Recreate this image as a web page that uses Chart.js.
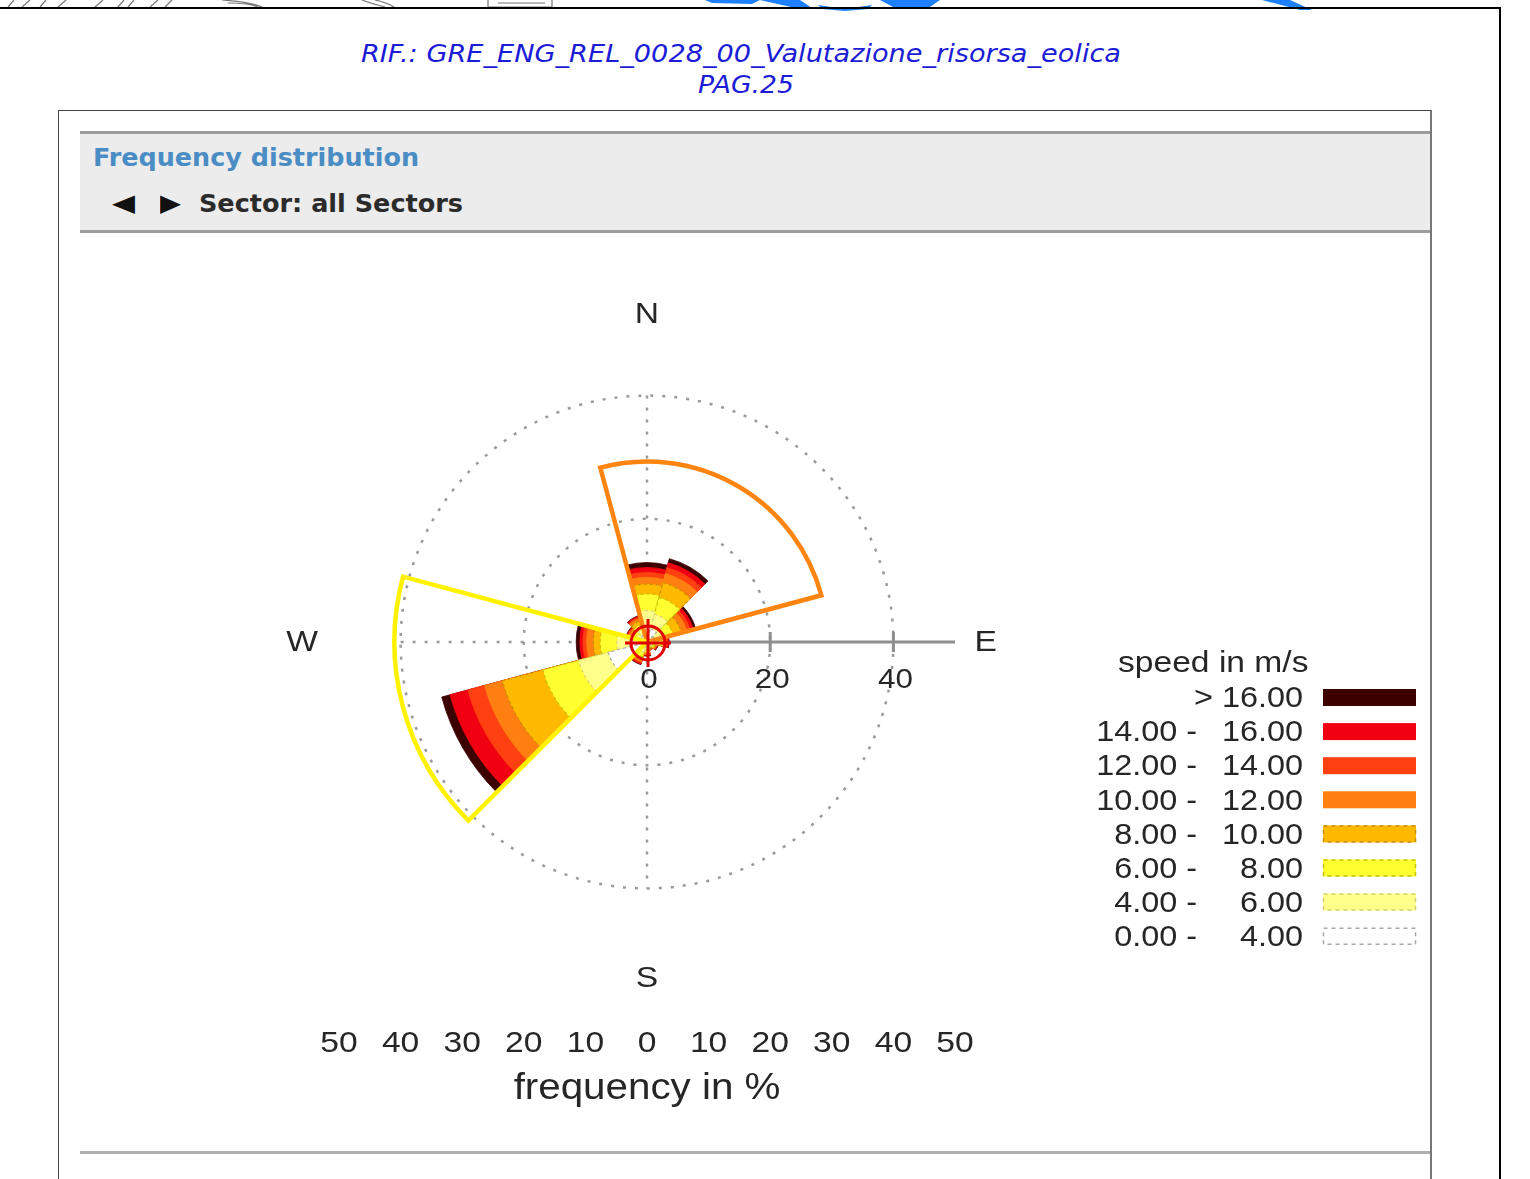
<!DOCTYPE html>
<html>
<head>
<meta charset="utf-8">
<script src="https://cdn.jsdelivr.net/npm/chart.js@4.4.1/dist/chart.umd.min.js"></script>
<style>
html,body{margin:0;padding:0;background:#fff;}
body{width:1530px;height:1179px;position:relative;overflow:hidden;font-family:"Liberation Sans",Arial,sans-serif;}
.abs{position:absolute;}
#topline{left:0;top:7px;width:1501px;height:2px;background:#000;}
#rightline{left:1499px;top:7px;width:2px;height:1172px;background:#000;}
#box{left:58px;top:110px;width:1371px;height:1100px;border-left:1px solid #444;border-top:1px solid #444;border-right:2px solid #777;}
#band{left:80px;top:131px;width:1350px;height:96px;background:#ececec;border-top:3px solid #9c9c9c;border-bottom:3px solid #9c9c9c;}
#bottomline{left:80px;top:1151px;width:1350px;height:3px;background:#b0b0b0;}
.fit{position:absolute;white-space:nowrap;line-height:1;transform-origin:left center;}
#hdr1{font-family:"DejaVu Sans",sans-serif;font-style:italic;font-size:25px;color:#1c1cd6;}
#hdr2{font-family:"DejaVu Sans",sans-serif;font-style:italic;font-size:25px;color:#1c1cd6;}
#ttl{font-family:"DejaVu Sans",sans-serif;font-weight:bold;font-size:25px;color:#4a8cc4;}
#sec{font-family:"DejaVu Sans",sans-serif;font-weight:bold;font-size:25px;color:#2b2b2b;}
#arrL,#arrR{font-family:"DejaVu Sans",sans-serif;font-size:24px;color:#111;}
canvas{position:absolute;left:0;top:0;}
</style>
</head>
<body>
<svg class="abs" style="left:0;top:0" width="1530" height="12">
  <g fill="none" stroke="#777" stroke-width="1.2">
    <path d="M8,7 L14,0 M22,7 L30,0 M40,7 L46,0 M58,7 L66,0 M95,7 L103,0 M118,7 L124,0 M128,7 L134,0 M150,7 L158,0 M165,7 L172,0"/>
    <path d="M222,0 Q250,2 262,7 M228,3 Q248,3 258,7"/>
    <path d="M362,0 Q372,4 385,7 M375,0 Q388,3 394,7"/>
    <path d="M488,0 L488,7 L552,7 L552,0 M498,3 L545,3"/>
  </g>
  <g fill="#1e80ff">
    <path d="M705,0 L760,0 L752,4 L712,3 Z"/>
    <path d="M760,0 L800,0 L812,8 L800,9 Z"/>
    <path d="M818,5 L845,9 L872,5 L868,9 L845,11 L822,9 Z"/>
    <path d="M880,0 L940,0 L930,7 L895,8 Z"/>
    <path d="M1262,0 L1290,0 L1312,10 L1300,10 Z"/>
  </g>
</svg>
<div id="topline" class="abs"></div>
<div id="rightline" class="abs"></div>
<div id="box" class="abs"></div>
<div id="band" class="abs"></div>
<div id="bottomline" class="abs"></div>
<span id="hdr1" class="fit">RIF.: GRE_ENG_REL_0028_00_Valutazione_risorsa_eolica</span>
<span id="hdr2" class="fit">PAG.25</span>
<span id="ttl" class="fit">Frequency distribution</span>
<span id="arrL" class="fit">◀</span>
<span id="arrR" class="fit">▶</span>
<span id="sec" class="fit">Sector: all Sectors</span>
<canvas id="c" width="1530" height="1179"></canvas>
<script>
// ---------------- data ----------------
const directions = [0, 30, 60, 90, 120, 150, 180, 210, 240, 270, 300, 330];
const speedLow  = [0, 4, 6, 8, 10, 12, 14, 16];
const speedHigh = [4, 6, 8, 10, 12, 14, 16, null];
// frequency in % per direction sector, one array per speed class
const freq_0_4   = [2.6, 2.2, 1.3, 1.0, 0.6, 0.5, 0.7, 1.0, 6.5, 2.8, 1.0, 1.2];
const freq_4_6   = [2.5, 2.5, 1.5, 0.8, 0.4, 0.3, 0.5, 0.8, 5.0, 2.1, 0.8, 1.0];
const freq_6_8   = [2.7, 2.8, 1.6, 0.6, 0.3, 0.2, 0.4, 0.7, 6.0, 2.7, 0.6, 0.8];
const freq_8_10  = [1.6, 2.5, 1.4, 0.4, 0.2, 0.2, 0.2, 0.5, 6.8, 1.1, 0.4, 0.6];
const freq_10_12 = [1.1, 1.5, 0.9, 0.3, 0.1, 0.1, 0.2, 0.3, 3.0, 1.1, 0.3, 0.4];
const freq_12_14 = [0.8, 1.0, 0.6, 0.2, 0.1, 0.1, 0.1, 0.2, 2.8, 0.6, 0.2, 0.2];
const freq_14_16 = [0.8, 0.8, 0.5, 0.2, 0.1, 0.0, 0.1, 0.2, 3.0, 0.5, 0.1, 0.2];
const freq_16_up = [0.8, 0.7, 0.4, 0.1, 0.1, 0.0, 0.1, 0.1, 1.4, 0.6, 0.1, 0.1];
const axisTicks = [0, 20, 40];
const bottomTicks = [-50, -40, -30, -20, -10, 0, 10, 20, 30, 40, 50];
// highlighted sector groups (bearing from, bearing to, radius in %)
const highlightFrom  = [-15, 225];
const highlightTo    = [75, 285];
const highlightValue = [29.3, 41];
const cardinals = ['N', 'E', 'S', 'W'];
const cardinalBearing = [0, 90, 180, 270];

// ---------------- styles ----------------
const bandColors  = ['#ffffff', '#ffff8c', '#ffff30', '#ffba00', '#ff8010', '#ff4010', '#f00010', '#3c0000'];
const bandBorders = ['#a8a8a8', '#d8d070', '#c8c000', '#c88e00', '#ff8010', '#ff4010', '#f00010', '#3c0000'];
const bandDashed  = [true, true, true, true, false, false, false, false];
const highlightColors = ['#ff8410', '#fff200'];
const cardinalDist = [53.3, 55.0, 54.5, 56.0];

const freqBands = [freq_0_4, freq_4_6, freq_6_8, freq_8_10, freq_10_12, freq_12_14, freq_14_16, freq_16_up];

function bandLabel(i) {
  const f = v => v.toFixed(2);
  return speedHigh[i] === null ? ['', '> ' + f(speedLow[i])] : [f(speedLow[i]) + ' -', f(speedHigh[i])];
}

// cumulative stacks: dataset 0 (lowest class) is drawn on top
const datasets = freqBands.map((band, k) => ({
  label: bandLabel(k).join(' '),
  data: directions.map((_, i) => {
    let s = 0;
    for (let j = 0; j <= k; j++) s += freqBands[j][i];
    return +s.toFixed(3);
  }),
  backgroundColor: bandColors[k],
  borderColor: bandBorders[k],
  borderWidth: bandDashed[k] ? 1.2 : 0.8,
  borderDash: bandDashed[k] ? [3, 3] : [],
}));

// ---------------- helpers ----------------
function fitEl(id, left, cy, width) {
  const el = document.getElementById(id);
  const r = el.getBoundingClientRect();
  el.style.left = left + 'px';
  el.style.top = (cy - r.height / 2) + 'px';
  el.style.transform = 'scaleX(' + (width / r.width) + ')';
}
function txt(c, s, x, y, size, align, sx) {
  c.save();
  c.font = size + 'px "Liberation Sans", Arial, sans-serif';
  c.fillStyle = '#262626';
  c.textBaseline = 'middle';
  c.textAlign = align;
  c.translate(x, y);
  c.scale(sx, 1);
  c.fillText(s, 0, 0);
  c.restore();
}
const rad = b => (b - 90) * Math.PI / 180;

const rosePlugin = {
  id: 'rose',
  beforeDatasetsDraw(chart) {
    const s = chart.scales.r, c = chart.ctx, cx = s.xCenter, cy = s.yCenter;
    const d = v => s.getDistanceFromCenterForValue(v);
    c.save();
    c.strokeStyle = '#9a9a9a';
    c.lineWidth = 2.5;
    c.setLineDash([3, 9]);
    c.beginPath();
    c.moveTo(cx, cy - d(40)); c.lineTo(cx, cy + d(40));
    c.moveTo(cx - d(40), cy); c.lineTo(cx, cy);
    c.stroke();
    c.setLineDash([]);
    c.strokeStyle = '#8e8e8e';
    c.lineWidth = 3;
    c.beginPath();
    c.moveTo(cx, cy); c.lineTo(cx + d(50), cy);
    axisTicks.forEach(v => { if (v > 0) { c.moveTo(cx + d(v), cy - 10); c.lineTo(cx + d(v), cy + 10); } });
    c.stroke();
    c.restore();
  },
  afterDatasetsDraw(chart) {
    const s = chart.scales.r, c = chart.ctx, cx = s.xCenter, cy = s.yCenter;
    const d = v => s.getDistanceFromCenterForValue(v);
    c.save();
    c.lineWidth = 4.5;
    c.lineJoin = 'miter';
    highlightFrom.forEach((b0, i) => {
      c.strokeStyle = highlightColors[i];
      c.beginPath();
      c.moveTo(cx, cy);
      c.arc(cx, cy, d(highlightValue[i]), rad(b0), rad(highlightTo[i]));
      c.closePath();
      c.stroke();
    });
    // crosshair
    c.strokeStyle = '#e00000';
    c.lineWidth = 3;
    c.beginPath();
    c.arc(cx + 1, cy + 1, 17, 0, Math.PI * 2);
    c.moveTo(cx + 1, cy - 23); c.lineTo(cx + 1, cy + 25);
    c.moveTo(cx - 22, cy + 1); c.lineTo(cx + 24, cy + 1);
    c.stroke();
    c.restore();
  },
  afterDraw(chart) {
    const s = chart.scales.r, c = chart.ctx, cx = s.xCenter, cy = s.yCenter;
    const d = v => s.getDistanceFromCenterForValue(v);
    const SX = 1.12;
    // cardinal letters
    cardinals.forEach((t, i) => {
      const a = rad(cardinalBearing[i]), r = d(cardinalDist[i]);
      txt(c, t, cx + r * Math.cos(a), cy + r * Math.sin(a) + 1, 30, 'center', SX);
    });
    // axis labels on E axis
    axisTicks.forEach(v => txt(c, String(v), cx + d(v) + 2, cy + 38, 28, 'center', SX));
    // bottom frequency scale
    bottomTicks.forEach(v => txt(c, String(Math.abs(v)), cx + Math.sign(v) * d(Math.abs(v)), 1044, 30, 'center', SX));
    txt(c, 'frequency in %', cx, 1089, 36, 'center', SX);
    // legend
    const LX = 1.08;
    txt(c, 'speed in m/s', 1118, 664, 30, 'left', 1.12);
    for (let k = bandColors.length - 1, row = 0; k >= 0; k--, row++) {
      const y = 699 + row * 34.1;
      const [a, b] = bandLabel(k);
      if (a) txt(c, a, 1197, y, 30, 'right', LX);
      txt(c, b, 1303, y, 30, 'right', LX);
      c.save();
      c.fillStyle = bandColors[k];
      c.fillRect(1323, y - 10, 93, 17);
      if (bandDashed[k]) {
        c.strokeStyle = bandBorders[k];
        c.lineWidth = 1.5;
        c.setLineDash([4, 4]);
        c.strokeRect(1323.5, y - 9.5, 92, 16);
      }
      c.restore();
    }
  }
};

Chart.defaults.font.family = '"Liberation Sans", Arial, sans-serif';
new Chart(document.getElementById('c'), {
  type: 'polarArea',
  data: { labels: directions.map(String), datasets },
  options: {
    responsive: false,
    animation: false,
    layout: { padding: { left: 339, right: 574, top: 334, bottom: 228 } },
    plugins: { legend: { display: false }, tooltip: { enabled: false } },
    scales: {
      r: {
        min: 0, max: 50, startAngle: -15,
        ticks: { display: false, stepSize: 10 },
        grid: {
          circular: true,
          lineWidth: 2.5,
          color: ctx => (ctx.tick && (ctx.tick.value === 20 || ctx.tick.value === 40)) ? '#9a9a9a' : 'rgba(0,0,0,0)'
        },
        border: { dash: [3, 9] },
        angleLines: { display: false },
        pointLabels: { display: false }
      }
    }
  },
  plugins: [rosePlugin]
});

fitEl('hdr1', 361, 53, 760);
fitEl('hdr2', 698, 84, 96);
fitEl('ttl', 93, 157, 326);
fitEl('arrL', 112, 203, 23);
fitEl('arrR', 160, 203, 21);
fitEl('sec', 199, 203, 264);
</script>
</body>
</html>
